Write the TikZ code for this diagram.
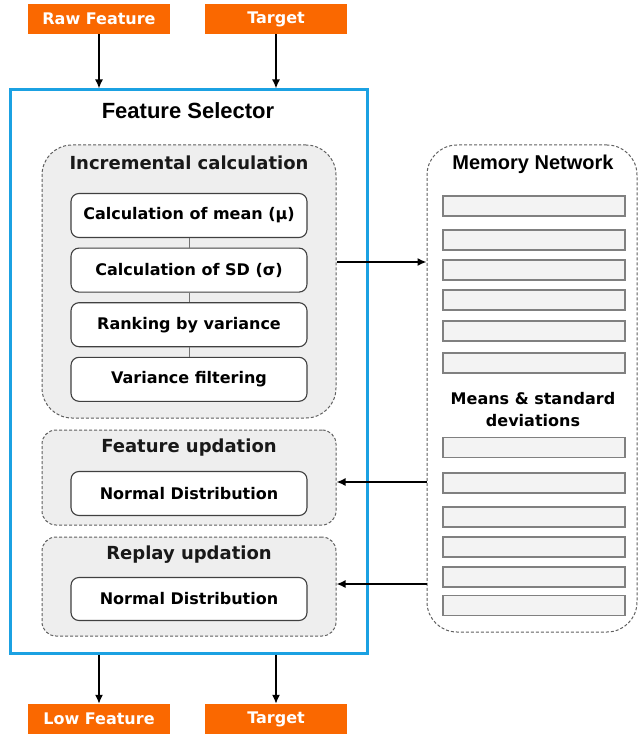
\documentclass[tikz,border=0pt]{standalone}
\usepackage{fontspec}
\setmainfont{DejaVu Sans}
\newfontfamily\arialfont{Liberation Sans}
\usepackage{tikz}
\usetikzlibrary{shapes.geometric, arrows, arrows.meta, positioning}

\definecolor{ioorange}{RGB}{250,104,0}
\definecolor{selblue}{RGB}{27,161,226}
\definecolor{grpfill}{RGB}{238,238,238}
\definecolor{cellfill}{RGB}{243,243,243}
\definecolor{dashgray}{RGB}{95,95,95}

\tikzset{
  iobox/.style={fill=ioorange, text=white, minimum width=142pt, minimum height=30pt,
    inner sep=0pt, font=\bfseries\fontsize{16}{19}\selectfont},
  group/.style={draw=dashgray, fill=grpfill, line width=1pt, dash pattern=on 3pt off 2pt,
    rounded corners=14pt, minimum width=294pt, inner sep=0pt},
  grptitle/.style={text=black!90, font=\bfseries\fontsize{18}{21}\selectfont},
  stepbox/.style={draw=black!75, fill=white, line width=1.1pt, rounded corners=8pt,
    minimum width=236pt, minimum height=44pt, inner sep=0pt,
    font=\bfseries\fontsize{16}{19}\selectfont},
  cell/.style={draw=gray, fill=cellfill, line width=1.3pt, minimum width=182pt,
    minimum height=20pt, inner sep=0pt},
  arr/.style={-{Latex[length=9pt,width=8pt]}, line width=1.6pt},
}

\begin{document}
\begin{tikzpicture}[x=1pt, y=-1pt]
    \useasboundingbox (0,0) rectangle (639,735);

		\node (raw) [iobox] at (99,19) {Raw Feature};
		\node (tgtin) [iobox] at (276,19) {Target};
		\node (sel) [draw=selblue, line width=3pt, minimum width=357pt, minimum height=563pt] at (188.5,371.5) {};
		\node (seltitle) [font=\arialfont\bfseries\fontsize{22}{26}\selectfont] at (188,111) {Feature Selector};
		\draw [arr] (raw) -- (raw |- sel.north);
		\draw [arr] (tgtin) -- (tgtin |- sel.north);

		% incremental calculation
		\node (incr) [group, rounded corners=30pt, minimum height=273pt] at (189,281.5) {};
		\node (incrtitle) [grptitle] at (189,163) {Incremental calculation};
		\node (mean) [stepbox] at (189,215.5) {Calculation of mean (μ)};
		\node[below=9.5pt of mean] (sd) [stepbox] {Calculation of SD (σ)};
		\node[below=9.5pt of sd] (rank) [stepbox] {Ranking by variance};
		\node[below=9.5pt of rank] (filt) [stepbox] {Variance filtering};
		\draw [black!55, line width=0.8pt] (mean) -- (sd) (sd) -- (rank) (rank) -- (filt);

		% updation blocks
		\node (feat) [group, minimum height=95pt] at (189,477.5) {};
		\node (feattitle) [grptitle] at (189,448) {Feature updation};
		\node (featnd) [stepbox] at (189,493.5) {Normal Distribution};
		\node (replay) [group, minimum height=99pt] at (189,586.5) {};
		\node (replaytitle) [grptitle] at (189,555) {Replay updation};
		\node (replaynd) [stepbox, minimum height=43pt] at (189,599) {Normal Distribution};

		% memory network
		\node (mem) [draw=dashgray, line width=1pt, dash pattern=on 3pt off 2pt, rounded corners=30pt,
		  minimum width=210pt, minimum height=487pt, inner sep=0pt] at (532,388.5) {};
		\node (memtitle) [font=\arialfont\bfseries\fontsize{20}{24}\selectfont] at (533,164) {Memory Network};
		\node (c1) [cell] at (534,206) {};
		\node (c2) [cell] at (534,240) {};
		\node (c3) [cell] at (534,270) {};
		\node (c4) [cell] at (534,300) {};
		\node (c5) [cell] at (534,331) {};
		\node (c6) [cell] at (534,363) {};
		\node (means) [align=center, font=\bfseries\fontsize{16}{22}\selectfont] at (533,410) {Means \& standard\\deviations};
		\node (c7) [cell] at (534,447.5) {};
		\node (c8) [cell] at (534,483) {};
		\node (c9) [cell] at (534,517) {};
		\node (c10) [cell] at (534,547) {};
		\node (c11) [cell] at (534,577) {};
		\node (c12) [cell] at (534,605.5) {};

		\coordinate (toMem) at (0,262);
		\coordinate (toFeat) at (0,482);
		\coordinate (toReplay) at (0,584);
		\draw [arr] (incr.east |- toMem) -- (mem.west |- toMem);
		\draw [arr] (mem.west |- toFeat) -- (feat.east |- toFeat);
		\draw [arr] (mem.west |- toReplay) -- (replay.east |- toReplay);

		\node (low) [iobox] at (99,719) {Low Feature};
		\node (tgtout) [iobox] at (276,719) {Target};
		\draw [arr] (sel.south -| low) -- (low);
		\draw [arr] (sel.south -| tgtout) -- (tgtout);
\end{tikzpicture}
\end{document}
